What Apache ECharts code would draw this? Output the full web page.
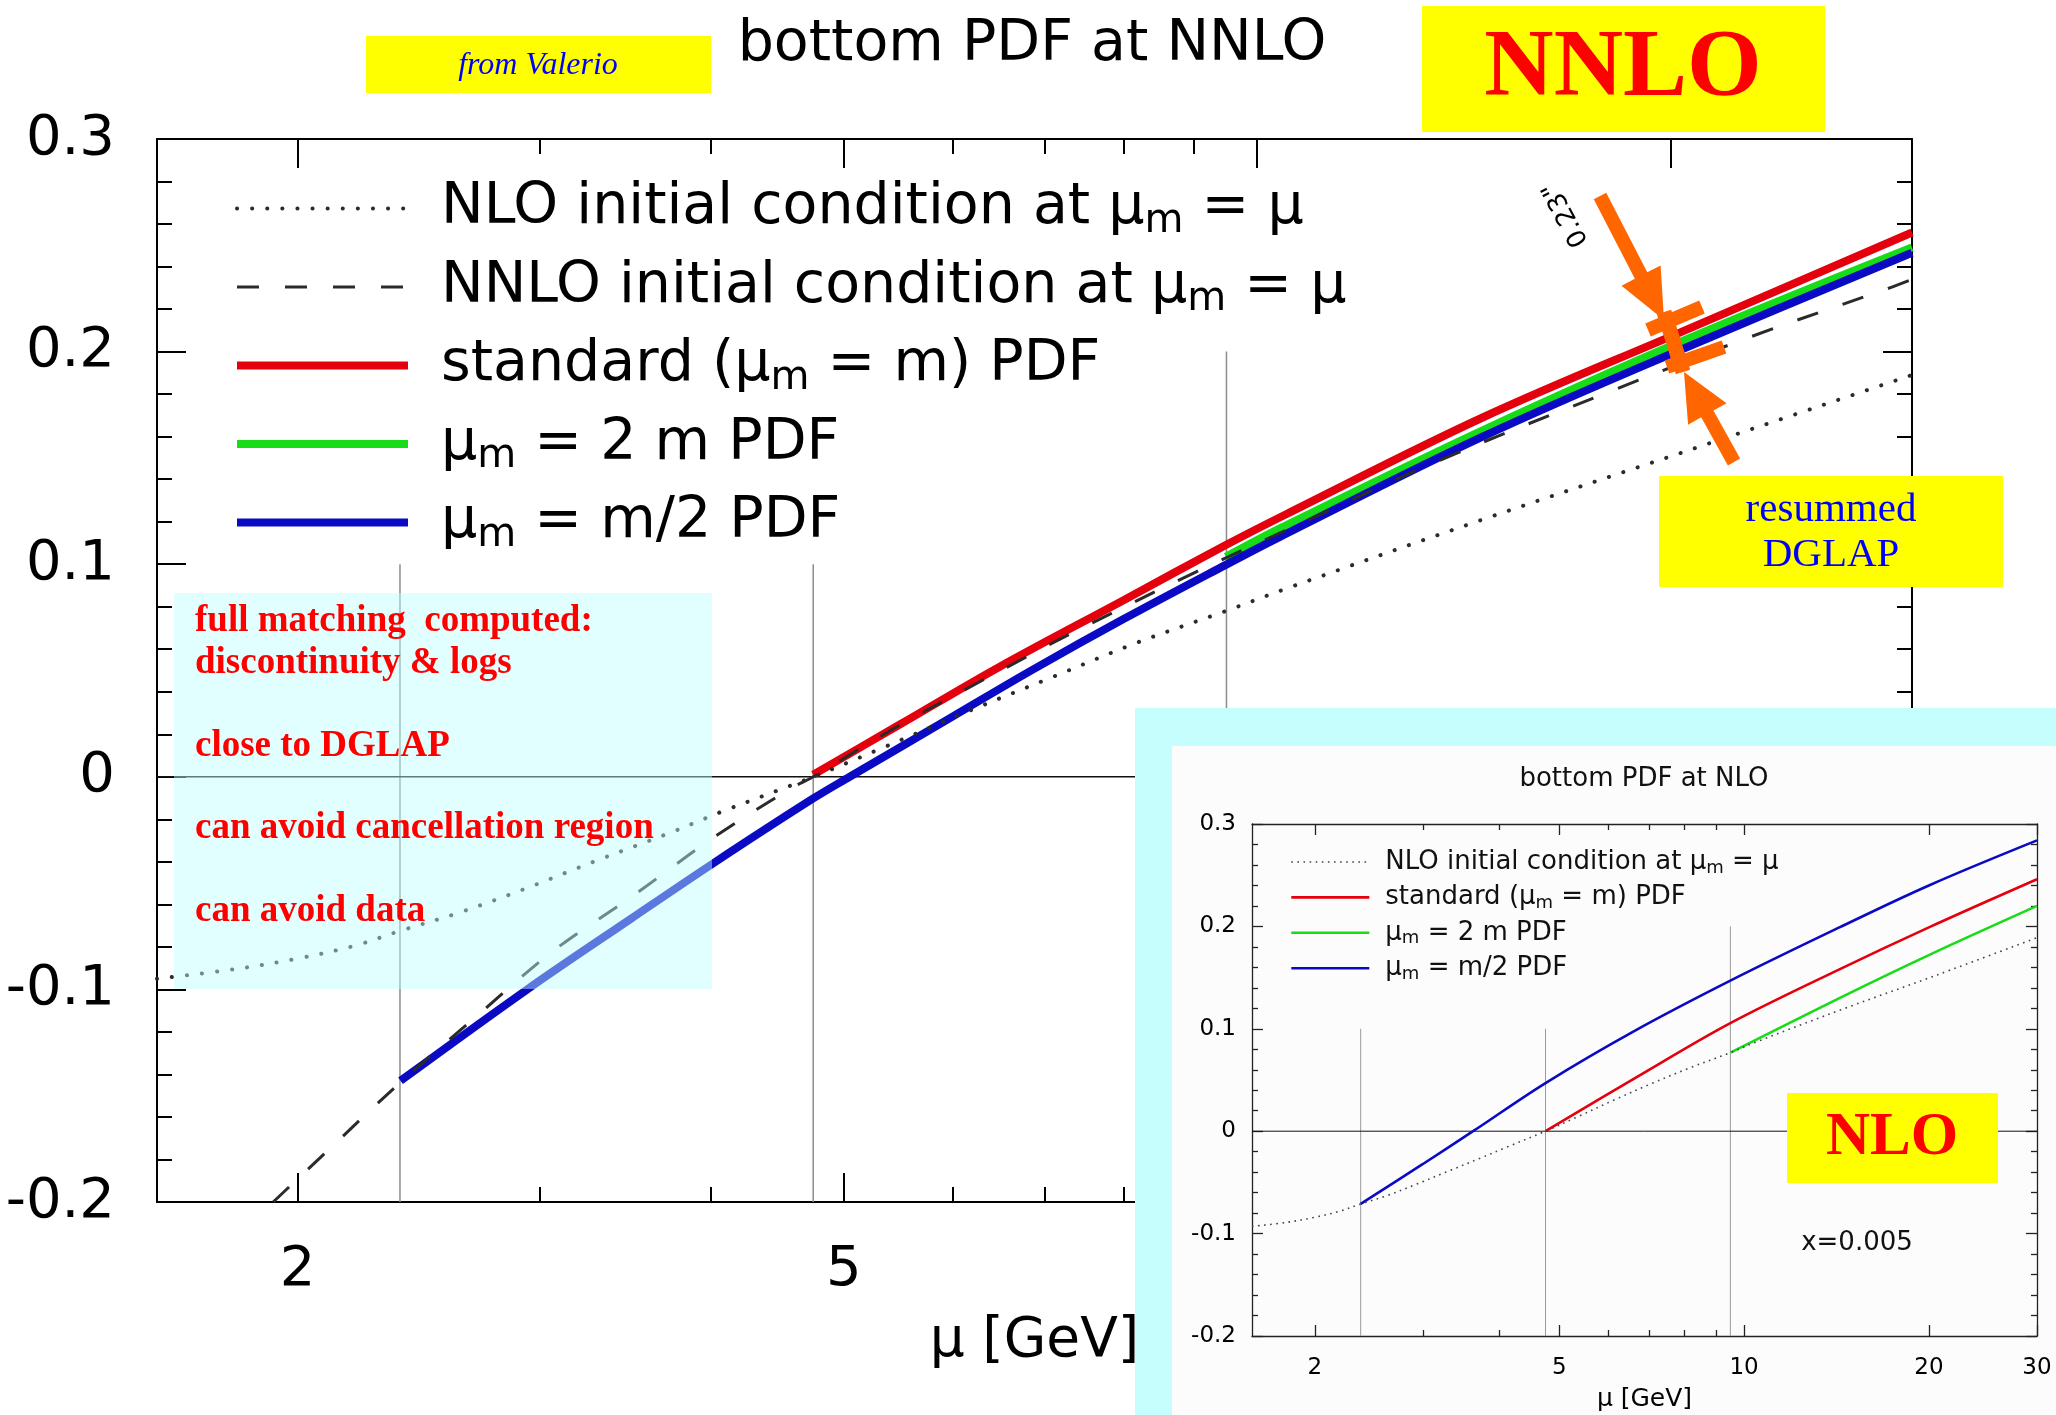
<!DOCTYPE html>
<html>
<head>
<meta charset="utf-8">
<script src="https://cdn.jsdelivr.net/npm/echarts@6.0.0/dist/echarts.min.js"></script>
<style>
html, body { margin:0; padding:0; background:#ffffff; width:2056px; height:1415px; overflow:hidden; }
#main { position:absolute; left:0; top:0; width:2056px; height:1415px; }
#insetFrame { position:absolute; left:1135px; top:708px; width:921px; height:707px; background:#c6fdfd; }
#inset { position:absolute; left:1172px; top:746px; width:884px; height:669px; background:#fcfcfc; }
</style>
</head>
<body>
<div id="main"></div>
<div id="insetFrame"></div>
<div id="inset"></div>
<script>
// ---------- axes ----------
const MU_MIN = 1.58;
const MU_MAX = 30;
const xTickLabels = [2, 5, 10, 20, 30];
const xMajorTicks = [2, 5, 10, 20, 30];
const xMinorTicks = [3, 4, 6, 7, 8, 9];
const Y_MIN = -0.2, Y_MAX = 0.3, Y_STEP = 0.1;

// matching scales m/2, m, 2m and the top of their guide lines
const matchScales = [2.375, 4.75, 9.5];
const matchTops = [0.1, 0.1, 0.2];

// ---------- main panel: bottom PDF at NNLO ----------
const nloInitMu  = [1.58, 1.8, 2.0, 2.2, 2.375, 2.62, 2.92, 3.3, 3.73, 4.09, 4.75, 5.33, 6.17, 7.1, 8.17, 9.49, 10.5, 14.6, 20.5, 30];
const nloInitVal = [-0.095, -0.0905, -0.0855, -0.0795, -0.0725, -0.064, -0.053, -0.0395, -0.0265, -0.016, 0.0, 0.0135, 0.031, 0.047, 0.063, 0.078, 0.0885, 0.121, 0.153, 0.189];

const nnloInitMu  = [1.92, 2.1, 2.377, 2.7, 3.07, 3.51, 4.01, 4.57, 4.75, 5.5, 6.82, 7.3, 9.03, 11, 13.6, 18.2, 22.9, 28.9, 30];
const nnloInitVal = [-0.2, -0.1763, -0.1437, -0.1127, -0.082, -0.056, -0.029, -0.0056, 0.0, 0.0245, 0.057, 0.067, 0.0964, 0.122, 0.149, 0.182, 0.207, 0.230, 0.234];

const stdMu  = [4.75, 5.5, 6.49, 8.0, 9.49, 10.5, 14.6, 20.5, 30];
const stdVal = [0.001, 0.0248, 0.0517, 0.0832, 0.109, 0.1235, 0.169, 0.210, 0.256];

const twoMMu  = [9.49, 10.4, 14.6, 20.5, 30];
const twoMVal = [0.1035, 0.117, 0.163, 0.2055, 0.249];

const halfMMu  = [2.377, 2.94, 3.5, 4.01, 4.75, 5.05, 6.0, 6.86, 8.0, 9.49, 10.4, 14.6, 20.5, 30];
const halfMVal = [-0.143, -0.100, -0.0667, -0.041, -0.0102, 0.0, 0.0283, 0.0503, 0.0743, 0.0997, 0.113, 0.160, 0.2017, 0.2465];

// ---------- inset: bottom PDF at NLO ----------
const insNloMu  = [1.58, 1.8, 2.0, 2.2, 2.375, 2.62, 2.92, 3.3, 3.73, 4.09, 4.75, 5.33, 6.17, 7.1, 8.17, 9.5, 10.5, 14.6, 20.5, 30];
const insNloVal = [-0.093, -0.089, -0.084, -0.078, -0.071, -0.063, -0.052, -0.039, -0.026, -0.016, 0.0, 0.0135, 0.031, 0.047, 0.062, 0.0767, 0.0875, 0.120, 0.152, 0.189];
const insStdMu  = [4.75, 6.74, 9.5, 14.3, 20, 30];
const insStdVal = [0.0, 0.054, 0.1055, 0.158, 0.199, 0.246];
const insTwoMMu  = [9.5, 14.3, 20, 30];
const insTwoMVal = [0.0767, 0.130, 0.172, 0.220];
const insHalfMMu  = [2.375, 3.0, 3.62, 4.75, 6.59, 9.5, 14.3, 20, 30];
const insHalfMVal = [-0.071, -0.032, 0.0, 0.047, 0.097, 0.147, 0.199, 0.240, 0.284];

// ---------- names ----------
const NAME_NLO  = 'NLO initial condition at μ_m = μ';
const NAME_NNLO = 'NNLO initial condition at μ_m = μ';
const NAME_STD  = 'standard (μ_m = m) PDF';
const NAME_2M   = 'μ_m = 2 m PDF';
const NAME_HM   = 'μ_m = m/2 PDF';

const FONT = 'DejaVu Sans';
const SERIF = 'Liberation Serif';
const RED = '#e4000c', GREEN = '#18dc18', BLUE = '#0a0ac4', DARK = '#2b2b2b';

const L = v => Math.log10(v);

function richName(name) {
  return name.split('_m').map(s => s ? '{t|' + s + '}' : '').join('{s|m}');
}

function makeAxes(p) {
  const ls = { color: p.axisColor, width: p.axisW };
  const xBase = { type: 'value', min: L(MU_MIN), max: L(MU_MAX), splitLine: { show: false } };
  const lab = xTickLabels.map(L), maj = xMajorTicks.map(L), mnr = xMinorTicks.map(L);
  const fmtX = v => String(Math.round(Math.pow(10, v)));
  const xAxis = [
    Object.assign({}, xBase, {
      position: 'bottom',
      axisLine: { show: true, onZero: false, lineStyle: ls },
      axisTick: { show: true, inside: true, length: p.tickMajor, customValues: maj, lineStyle: ls },
      axisLabel: { show: true, customValues: lab, formatter: fmtX, margin: p.xMargin, fontSize: p.fs, fontFamily: FONT, color: '#000' },
      name: 'μ [GeV]', nameLocation: 'middle', nameGap: p.nameGap,
      nameTextStyle: { fontSize: p.nameFs, fontFamily: FONT, color: '#000' }
    }),
    Object.assign({}, xBase, {
      position: 'bottom', axisLine: { show: false, onZero: false },
      axisTick: { show: true, inside: true, length: p.tickMinor, customValues: mnr, lineStyle: ls },
      axisLabel: { show: false, customValues: mnr }
    }),
    Object.assign({}, xBase, {
      position: 'top', axisLine: { show: true, onZero: false, lineStyle: ls },
      axisTick: { show: true, inside: true, length: p.tickMajor, customValues: maj, lineStyle: ls },
      axisLabel: { show: false, customValues: lab }
    }),
    Object.assign({}, xBase, {
      position: 'top', axisLine: { show: false, onZero: false },
      axisTick: { show: true, inside: true, length: p.tickMinor, customValues: mnr, lineStyle: ls },
      axisLabel: { show: false, customValues: mnr }
    })
  ];
  const yBase = {
    type: 'value', min: Y_MIN, max: Y_MAX, interval: Y_STEP, splitLine: { show: false },
    axisLine: { show: true, onZero: false, lineStyle: ls },
    axisTick: { show: true, inside: true, length: p.tickMajor, lineStyle: ls },
    minorTick: { show: true, splitNumber: 5, length: p.tickMinor, lineStyle: ls }
  };
  const yAxis = [
    Object.assign({}, yBase, {
      position: 'left',
      axisLabel: { show: true, margin: p.yMargin, fontSize: p.fs, fontFamily: FONT, color: '#000',
        formatter: v => Math.abs(v) < 1e-9 ? '0' : v.toFixed(1) }
    }),
    Object.assign({}, yBase, { position: 'right', axisLabel: { show: false } })
  ];
  return { xAxis, yAxis };
}

function curve(name, mu, val, lineStyle, z) {
  return {
    type: 'line', name, data: mu.map((m, i) => [L(m), val[i]]),
    symbol: 'none', showSymbol: false, smooth: 0.35,
    lineStyle, itemStyle: { color: lineStyle.color }, z, silent: true, emphasis: { disabled: true }
  };
}

function guideSeries(color, width) {
  const s = matchScales.map((m, i) => ({
    type: 'line', data: [[L(m), Y_MIN], [L(m), matchTops[i]]], symbol: 'none',
    lineStyle: { color: color, width: width }, z: 1, silent: true, emphasis: { disabled: true }
  }));
  s.push({
    type: 'line', data: [[L(MU_MIN), 0], [L(MU_MAX), 0]], symbol: 'none',
    lineStyle: { color: '#111', width: width }, z: 1, silent: true, emphasis: { disabled: true }
  });
  return s;
}

function arrowPoly(x0, y0, x1, y1, sw, hl, hw) {
  const dx = x1 - x0, dy = y1 - y0, len = Math.hypot(dx, dy);
  const ux = dx / len, uy = dy / len, px = -uy, py = ux;
  const bx = x1 - ux * hl, by = y1 - uy * hl;
  return [[x0 + px * sw / 2, y0 + py * sw / 2], [bx + px * sw / 2, by + py * sw / 2], [bx + px * hw, by + py * hw],
          [x1, y1], [bx - px * hw, by - py * hw], [bx - px * sw / 2, by - py * sw / 2], [x0 - px * sw / 2, y0 - py * sw / 2]];
}

// ================= MAIN CHART =================
const mainAxes = makeAxes({ axisColor: '#000', axisW: 2, tickMajor: 29, tickMinor: 15, fs: 56, nameFs: 55,
  xMargin: 40, yMargin: 42, nameGap: 112 });
const ORANGE = '#ff6600';
const redText = (t, y) => ({ type: 'text', x: 195, y: y, z: 101,
  style: { text: t, fontFamily: SERIF, fontWeight: 'bold', fontSize: 37, fill: '#ff0000', align: 'left', verticalAlign: 'middle' } });

const mainChart = echarts.init(document.getElementById('main'), null, { renderer: 'canvas' });
mainChart.setOption({
  animation: false,
  backgroundColor: '#ffffff',
  title: { text: 'bottom PDF at NNLO', left: 1027, top: 12, textAlign: 'center', textVerticalAlign: 'top',
    textStyle: { fontSize: 57, fontWeight: 'normal', fontFamily: FONT, color: '#000' } },
  grid: { left: 157, top: 139, width: 1755, height: 1063, outerBoundsMode: 'none', containLabel: false },
  xAxis: mainAxes.xAxis,
  yAxis: mainAxes.yAxis,
  legend: {
    orient: 'vertical', left: 228, top: 175, itemWidth: 171, itemHeight: 16, itemGap: 17,
    selectedMode: false, data: [NAME_NLO, NAME_NNLO, NAME_STD, NAME_2M, NAME_HM],
    formatter: richName, lineStyle: { width: 'inherit' }, itemStyle: { opacity: 0 },
    textStyle: { padding: [0, 0, 0, 28], rich: {
      t: { fontSize: 57, fontFamily: FONT, color: '#000', lineHeight: 66 },
      s: { fontSize: 40, fontFamily: FONT, color: '#000', lineHeight: 36, verticalAlign: 'bottom' } } }
  },
  series: guideSeries('#8c8c8c', 1.5).concat([
    curve(NAME_STD, stdMu, stdVal, { color: RED, width: 8 }, 3),
    curve(NAME_2M, twoMMu, twoMVal, { color: GREEN, width: 8 }, 3),
    curve(NAME_HM, halfMMu, halfMVal, { color: BLUE, width: 8 }, 3),
    curve(NAME_NLO, nloInitMu, nloInitVal, { color: DARK, width: 4, type: [0.1, 15], cap: 'round' }, 5),
    curve(NAME_NNLO, nnloInitMu, nnloInitVal, { color: DARK, width: 3, type: [22, 26] }, 5)
  ]),
  graphic: [
    { type: 'rect', shape: { x: 366, y: 36, width: 345, height: 57 }, style: { fill: '#ffff00' }, z: 100 },
    { type: 'text', x: 538, y: 66, z: 101, style: { text: 'from Valerio', fontFamily: SERIF, fontStyle: 'italic', fontSize: 32, fill: '#0000ff', align: 'center', verticalAlign: 'middle' } },
    { type: 'rect', shape: { x: 1422, y: 6, width: 403, height: 126 }, style: { fill: '#ffff00' }, z: 100 },
    { type: 'text', x: 1623, y: 70, z: 101, style: { text: 'NNLO', fontFamily: SERIF, fontWeight: 'bold', fontSize: 96, fill: '#ff0000', align: 'center', verticalAlign: 'middle' } },
    { type: 'rect', shape: { x: 1659, y: 476, width: 344, height: 111 }, style: { fill: '#ffff00' }, z: 100 },
    { type: 'text', x: 1831, y: 510, z: 101, style: { text: 'resummed', fontFamily: SERIF, fontSize: 41, fill: '#0000ff', align: 'center', verticalAlign: 'middle' } },
    { type: 'text', x: 1831, y: 555, z: 101, style: { text: 'DGLAP', fontFamily: SERIF, fontSize: 41, fill: '#0000ff', align: 'center', verticalAlign: 'middle' } },
    { type: 'rect', shape: { x: 174, y: 593, width: 538, height: 396 }, style: { fill: 'rgba(190,255,255,0.45)' }, z: 100 },
    redText('full matching  computed:', 621),
    redText('discontinuity & logs', 663),
    redText('close to DGLAP', 746),
    redText('can avoid cancellation region', 828),
    redText('can avoid data', 911),
    { type: 'polygon', shape: { points: arrowPoly(1600, 196, 1664, 320, 14, 50, 22) }, style: { fill: ORANGE }, z: 102 },
    { type: 'polygon', shape: { points: arrowPoly(1734, 462, 1684, 372, 14, 48, 22) }, style: { fill: ORANGE }, z: 102 },
    { type: 'polyline', shape: { points: [[1664, 312], [1683, 372]] }, style: { stroke: ORANGE, lineWidth: 15 }, z: 102 },
    { type: 'polyline', shape: { points: [[1648, 330], [1702, 307]] }, style: { stroke: ORANGE, lineWidth: 14 }, z: 102 },
    { type: 'polyline', shape: { points: [[1667, 367], [1724, 347]] }, style: { stroke: ORANGE, lineWidth: 14 }, z: 102 },
    { type: 'text', x: 1566, y: 214, rotation: 118 * Math.PI / 180, z: 102,
      style: { text: '0.23"', fontFamily: FONT, fontSize: 26, fill: '#000', align: 'center', verticalAlign: 'middle' } }
  ]
});

// ================= INSET CHART =================
const insAxes = makeAxes({ axisColor: '#222', axisW: 1.3, tickMajor: 11, tickMinor: 6, fs: 23, nameFs: 25,
  xMargin: 21, yMargin: 16, nameGap: 51 });
const insetChart = echarts.init(document.getElementById('inset'), null, { renderer: 'canvas' });
insetChart.setOption({
  animation: false,
  backgroundColor: 'transparent',
  title: { text: 'bottom PDF at NLO', left: 467, top: 15, textAlign: 'center', textVerticalAlign: 'top',
    textStyle: { fontSize: 26, fontWeight: 'normal', fontFamily: FONT, color: '#111' } },
  grid: { left: 80, top: 78, right: 19, bottom: 79, outerBoundsMode: 'none', containLabel: false },
  xAxis: insAxes.xAxis,
  yAxis: insAxes.yAxis,
  legend: {
    orient: 'vertical', left: 113, top: 98, itemWidth: 78, itemHeight: 8, itemGap: 7.4,
    selectedMode: false, data: [NAME_NLO, NAME_STD, NAME_2M, NAME_HM],
    formatter: richName, lineStyle: { width: 'inherit' }, itemStyle: { opacity: 0 },
    textStyle: { padding: [0, 0, 0, 11], rich: {
      t: { fontSize: 26, fontFamily: FONT, color: '#111', lineHeight: 30 },
      s: { fontSize: 18, fontFamily: FONT, color: '#111', lineHeight: 16, verticalAlign: 'bottom' } } }
  },
  series: guideSeries('#9a9a9a', 1).concat([
    curve(NAME_NLO, insNloMu, insNloVal, { color: '#444', width: 1.6, type: [1.6, 4.5] }, 5),
    curve(NAME_STD, insStdMu, insStdVal, { color: RED, width: 2.6 }, 3),
    curve(NAME_2M, insTwoMMu, insTwoMVal, { color: GREEN, width: 2.6 }, 3),
    curve(NAME_HM, insHalfMMu, insHalfMVal, { color: BLUE, width: 2.6 }, 3)
  ]),
  graphic: [
    { type: 'rect', shape: { x: 615, y: 347, width: 211, height: 90 }, style: { fill: '#ffff00' }, z: 100 },
    { type: 'text', x: 720, y: 392, z: 101, style: { text: 'NLO', fontFamily: SERIF, fontWeight: 'bold', fontSize: 61, fill: '#ff0000', align: 'center', verticalAlign: 'middle' } },
    { type: 'text', x: 685, y: 497, z: 101, style: { text: 'x=0.005', fontFamily: FONT, fontSize: 26, fill: '#111', align: 'center', verticalAlign: 'middle' } }
  ]
});
</script>
</body>
</html>
